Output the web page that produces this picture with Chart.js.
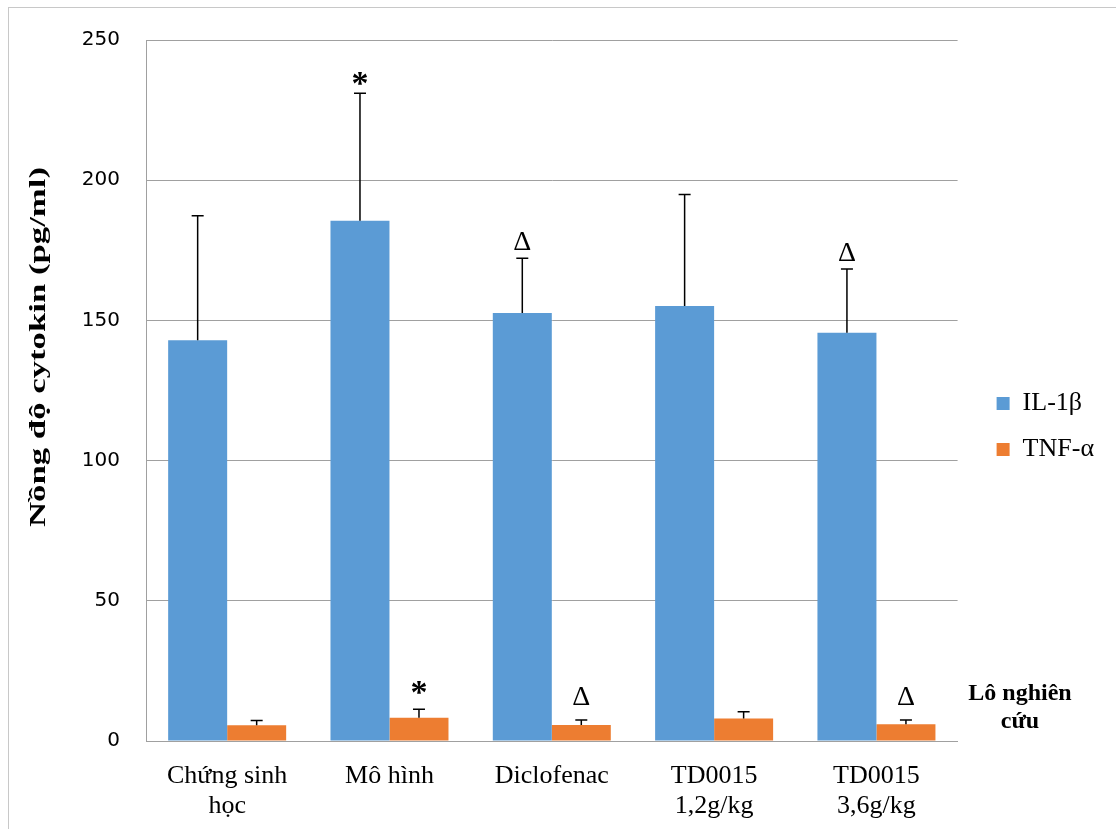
<!DOCTYPE html>
<html lang="vi">
<head>
<meta charset="utf-8">
<script src="https://cdn.jsdelivr.net/npm/chart.js@4.4.1/dist/chart.umd.min.js"></script>
<style>
  html, body { margin: 0; padding: 0; background: #fff; }
  #khung { position: absolute; left: 8px; top: 7px; width: 1200px; height: 900px;
           border-left: 1px solid #c8c8c8; border-top: 1px solid #c8c8c8; }
  #bieuDo { position: absolute; left: 0; top: 0; }
</style>
</head>
<body>
<div id="khung"></div>
<canvas id="bieuDo" width="1116" height="829"></canvas>
<script>
// Các lô nghiên cứu (trục X)
const loNghienCuu = [['Chứng sinh', 'học'], ['Mô hình'], ['Diclofenac'], ['TD0015', '1,2g/kg'], ['TD0015', '3,6g/kg']];

// Nồng độ trung bình và độ lệch chuẩn (pg/ml)
const il1b = [142.9, 185.5, 152.6, 155.1, 145.6];
const il1bSD = [44.4, 45.5, 19.6, 39.8, 22.7];
const tnfa = [5.6, 8.3, 5.7, 8.0, 6.0];
const tnfaSD = [1.7, 3.0, 1.8, 2.4, 1.5];

// Ký hiệu khác biệt có ý nghĩa
const kyHieuIL = ['', '*', 'Δ', '', 'Δ'];
const kyHieuTNF = ['', '*', 'Δ', '', 'Δ'];

// Trục Y
const yMin = 0, yMax = 250, yBuoc = 50;

const serif = "'Liberation Serif', 'Times New Roman', serif";

// Vẽ thanh sai số (chỉ phía trên) và ký hiệu thống kê
const saiSoPlugin = {
    id: 'saiSo',
    afterDatasetsDraw(chart) {
        const ctx = chart.ctx;
        const yScale = chart.scales.y;
        chart.data.datasets.forEach((ds, i) => {
            const meta = chart.getDatasetMeta(i);
            meta.data.forEach((bar, j) => {
                const yTop = yScale.getPixelForValue(ds.data[j] + ds.saiSo[j]);
                ctx.save();
                ctx.strokeStyle = '#000';
                ctx.lineWidth = 1.5;
                ctx.beginPath();
                ctx.moveTo(bar.x, bar.y);
                ctx.lineTo(bar.x, yTop);
                ctx.moveTo(bar.x - 6, yTop);
                ctx.lineTo(bar.x + 6, yTop);
                ctx.stroke();
                const kh = ds.kyHieu[j];
                if (kh) {
                    ctx.fillStyle = '#000';
                    ctx.font = kh === '*' ? 'bold 34px ' + serif : '28px ' + serif;
                    ctx.textAlign = 'center';
                    ctx.textBaseline = 'alphabetic';
                    const m = ctx.measureText(kh);
                    ctx.fillText(kh, bar.x, yTop - ds.khoangKyHieu - m.actualBoundingBoxDescent);
                }
                ctx.restore();
            });
        });
    }
};

// Tiêu đề trục Y và nhãn "Lô nghiên cứu"
const nhanPlugin = {
    id: 'nhan',
    afterDraw(chart) {
        const ctx = chart.ctx;
        ctx.save();
        ctx.fillStyle = '#000';
        ctx.font = 'bold 24px ' + serif;
        ctx.textAlign = 'center';
        ctx.textBaseline = 'middle';
        ctx.translate(39, 347);
        ctx.rotate(-Math.PI / 2);
        const tieuDe = 'Nồng độ cytokin (pg/ml)';
        const w = ctx.measureText(tieuDe).width;
        ctx.scale(360 / w, 1);
        ctx.fillText(tieuDe, 0, 0);
        ctx.restore();

        ctx.save();
        ctx.fillStyle = '#000';
        ctx.font = 'bold 24px ' + serif;
        ctx.textAlign = 'center';
        ctx.textBaseline = 'middle';
        ctx.fillText('Lô nghiên', 1020, 694);
        ctx.fillText('cứu', 1020, 722);
        ctx.restore();
    }
};

new Chart(document.getElementById('bieuDo'), {
    type: 'bar',
    data: {
        labels: loNghienCuu,
        datasets: [
            { label: 'IL-1β', data: il1b, saiSo: il1bSD, kyHieu: kyHieuIL, khoangKyHieu: 8,
              backgroundColor: '#5B9BD5' },
            { label: 'TNF-α', data: tnfa, saiSo: tnfaSD, kyHieu: kyHieuTNF, khoangKyHieu: 15,
              backgroundColor: '#ED7D31' }
        ]
    },
    options: {
        responsive: false,
        devicePixelRatio: 1,
        animation: false,
        categoryPercentage: 0.727,
        barPercentage: 1,
        layout: { padding: { top: 40, bottom: 0, left: 0, right: 12 } },
        plugins: {
            legend: {
                position: 'right',
                fullSize: false,
                // tiêu đề rỗng để đẩy chú thích xuống giữa
                title: { display: true, text: '', font: { size: 12, lineHeight: 1 }, padding: { top: 60, bottom: 0 } },
                labels: {
                    boxWidth: 13,
                    boxHeight: 13,
                    padding: 20,
                    color: '#000',
                    font: { family: serif, size: 26 }
                }
            },
            tooltip: { enabled: false }
        },
        scales: {
            x: {
                grid: { display: false },
                border: { color: '#a0a0a0', width: 1 },
                ticks: {
                    color: '#000',
                    padding: 12,
                    maxRotation: 0,
                    font: { family: serif, size: 26, lineHeight: 1.15 }
                },
                afterFit: s => { s.height = 88; }
            },
            y: {
                min: yMin,
                max: yMax,
                grid: { color: '#a0a0a0', lineWidth: 1, drawTicks: false },
                border: { color: '#a0a0a0', width: 1 },
                ticks: {
                    stepSize: yBuoc,
                    color: '#000',
                    padding: 26,
                    font: { family: "'DejaVu Sans', sans-serif", size: 20 }
                },
                afterFit: s => { s.width = 146; }
            },
            // khoảng trống giữa vùng vẽ và chú thích
            khoangPhai: {
                type: 'linear',
                position: 'right',
                grid: { display: false },
                border: { display: false },
                ticks: { display: false },
                afterFit: s => { s.width = 19; }
            }
        }
    },
    plugins: [saiSoPlugin, nhanPlugin]
});
</script>
</body>
</html>
